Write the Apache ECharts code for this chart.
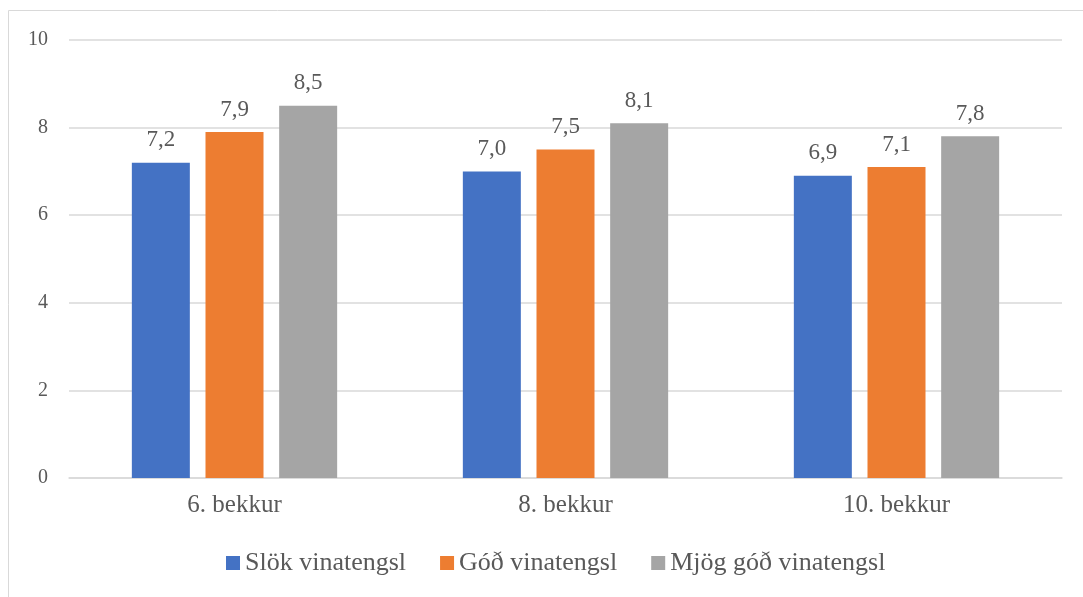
<!DOCTYPE html>
<html>
<head>
<meta charset="utf-8">
<script src="https://cdn.jsdelivr.net/npm/echarts@6/dist/echarts.min.js"></script>
<style>
  html, body { margin: 0; padding: 0; background: #fff; }
  #chart { width: 1083px; height: 597px; }
</style>
</head>
<body>
<div id="chart"></div>
<script>
// Grades (bekkur) on the category axis
var categories = ['6. bekkur', '8. bekkur', '10. bekkur'];
// Mean scores by friendship quality
var slok = [7.2, 7.0, 6.9];
var god = [7.9, 7.5, 7.1];
var mjogGod = [8.5, 8.1, 7.8];
var seriesNames = ['Slök vinatengsl', 'Góð vinatengsl', 'Mjög góð vinatengsl'];
var colors = ['#4472c4', '#ed7d31', '#a5a5a5'];

var FONT = '"Liberation Serif", "DejaVu Serif", serif';
var TEXT = '#595959';

function fmt(v) { return v.toFixed(1).replace('.', ','); }

function makeSeries(name, data, color) {
  return {
    name: name,
    type: 'bar',
    data: data,
    barWidth: 58,
    barGap: '27%',
    itemStyle: { color: color },
    label: {
      show: true,
      position: 'top',
      distance: 11,
      color: TEXT,
      fontFamily: FONT,
      fontSize: 23,
      formatter: function (p) { return fmt(p.value); }
    }
  };
}

var chart = echarts.init(document.getElementById('chart'), null, { renderer: 'canvas' });
chart.setOption({
  animation: false,
  textStyle: { fontFamily: FONT },
  color: colors,
  graphic: [{
    type: 'rect',
    shape: { x: 8.5, y: 10.5, width: 1200, height: 700 },
    style: { fill: 'none', stroke: '#d9d9d9', lineWidth: 1 },
    silent: true
  }],
  grid: { left: 69, right: 21, top: 40, bottom: 119, containLabel: false },
  legend: {
    top: 545,
    left: 221,
    itemWidth: 14,
    itemHeight: 14,
    itemGap: 34,
    icon: 'rect',
    textStyle: { color: TEXT, fontFamily: FONT, fontSize: 26 },
    data: seriesNames
  },
  xAxis: {
    type: 'category',
    data: categories,
    axisLine: { show: true, lineStyle: { color: '#d9d9d9', width: 1.5 } },
    axisTick: { show: false },
    axisLabel: { color: TEXT, fontFamily: FONT, fontSize: 25, margin: 15 }
  },
  yAxis: {
    type: 'value',
    min: 0,
    max: 10,
    interval: 2,
    axisLine: { show: false },
    axisTick: { show: false },
    axisLabel: { color: TEXT, fontFamily: FONT, fontSize: 20, margin: 21 },
    splitLine: { lineStyle: { color: '#d9d9d9', width: 1.5 } }
  },
  series: [
    makeSeries(seriesNames[0], slok, colors[0]),
    makeSeries(seriesNames[1], god, colors[1]),
    makeSeries(seriesNames[2], mjogGod, colors[2])
  ]
});
</script>
</body>
</html>
